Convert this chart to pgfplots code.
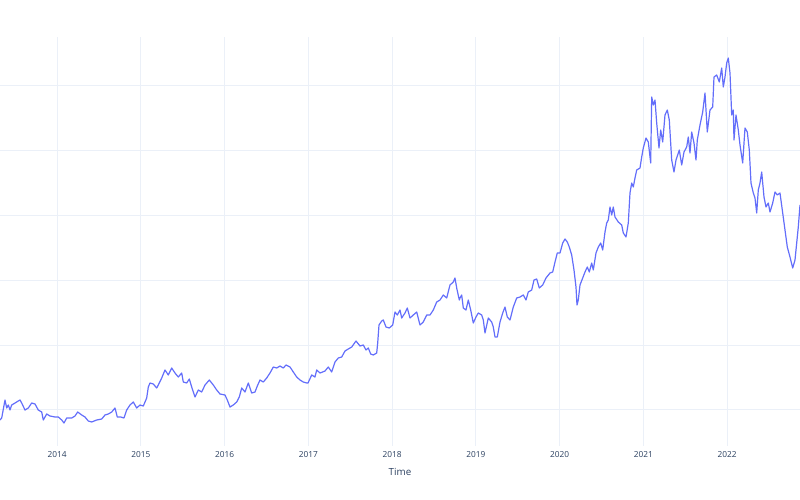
\documentclass[border=0pt]{standalone}
\usepackage{pgfplots}
\pgfplotsset{compat=1.18}
\usepackage{pgfplotstable}
\usepackage{fontspec}
\setmainfont{Open Sans}
\definecolor{plotblue}{HTML}{636EFA}
\definecolor{gridc}{HTML}{EBF0F8}
\definecolor{textc}{HTML}{2A3F5F}
\pgfplotstableread{
px py
0 420
1.7 418
5 400
6.7 408
8.3 405
10 410
11.7 405
15 403
18.3 401
20 400
21.7 403
25 410
28.3 408
31.7 403
35 404
38.3 410
41.7 412
43.3 420
46.7 414
50 416
55 417
58.3 417
61.7 420
64 423
66.7 418
71.7 418
75 416
77.7 412
81.7 415
85 417
88.3 421
91.7 422
96.7 420
101.7 419
105 415
108.3 414
111.7 412
115 408
117.3 417
120.7 417
124 418
126.7 410
130 405
133.3 402
136.7 408
140 405
143.3 406
146.7 398
148.3 387
150 383
153.3 384
156.7 388
158.3 385
161.7 378
165 370
168.3 375
171.7 368
175 373
178.3 377
181.7 373
183.3 382
186.7 383
189.3 379
191.7 387
195 397
198.3 390
201.7 392
205 385
209.3 380
213.3 385
216.7 390
220 394
225 395
227.3 400
230 407
233.3 405
236.7 402
239.3 397
241.7 388
245 392
248.3 383
251.7 393
255 392
257.3 386
260 380
263.3 382
266.7 378
270 373
273.3 367
276.7 368
280 366
283.3 368
286 365
290 367
293.3 372
296.7 377
300 380
303.3 382
306.7 383
308 383
311.7 375
315 377
316.7 370
320 373
325 371
328.3 367
331.7 372
335 362
338.3 358
341.7 357
345 351
348.3 349
351.7 347
356 341
360 346
363.3 345
366 350
368.3 348
370.7 354
373.3 355
376.7 353
377.7 343
379 325
381.7 321
383.3 320
386 327
389.3 328
392.7 325
395 312
397.3 315
400 310
401.7 318
405 313
407.3 308
410 318
413.3 315
416.7 312
420 325
423.3 322
426.7 315
430 315
433.3 310
436.7 302
440 300
443.3 295
446.7 298
450 285
453.3 282
455 278
456.7 288
459.3 300
460 298
461.7 295
463.3 308
466 310
468.3 300
470.7 310
473.3 323
476 317
478.3 313
481.7 315
483.3 320
485 333
488.3 318
491.7 322
493.3 327
495 337
497.3 337
500 322
502.7 313
505 307
507.3 317
510 320
513.3 307
516.7 298
520 297
523.3 295
526 300
528.3 292
531.7 290
534 280
536.7 279
539.3 288
542.7 285
546 278
550 273
552.7 272
555 262
557.3 253
560 253
562.7 243
565 239
567.3 242
569.3 247
571.7 255
574 270
576 287
577 305
578.3 300
580 285
582.7 278
585 272
587.3 267
589.3 272
591.7 263
593.3 270
596 253
598.3 247
600.7 243
602.7 250
605 232
606.7 223
608.3 220
610 207
611.7 215
613.3 207
615 217
618.3 222
621.7 225
623.3 233
626 237
628.3 223
630 193
631.7 183
633.3 187
635 178
636.7 170
640 168
641.7 157
643.3 148
646 138
648.3 142
650.7 163
651.7 97
653.3 105
655 100
656.7 123
659 148
660.7 130
662.7 142
665 115
667.3 110
669.3 120
671.7 160
674 172
676 160
679.3 150
681.7 165
684 152
686.7 147
688.3 137
690 153
691.7 132
694 143
696 160
697.3 140
700 125
702.7 112
705 93
707.3 132
710 110
712.7 107
714 77
716.7 75
719.3 82
721.7 68
723.3 87
725 77
726.7 63
728.3 58
730 73
731.7 115
733.3 110
734 140
736 115
738.3 130
740 145
742.7 163
745 128
747.3 132
749.3 150
751 183
753.3 193
755 198
756.7 213
758.3 190
760 183
761.7 172
764 197
766 207
768.3 203
770 212
772.7 203
775 192
777.3 195
780 193
782.7 213
785 230
787.3 247
790 257
792.7 268
795 260
796.7 243
798.3 227
800 205
}\pricedata
\begin{document}
\begin{tikzpicture}
\useasboundingbox (0,-54bp) rectangle (800bp,446bp);
\begin{axis}[
  at={(0,0)}, anchor=south west,
  scale only axis,
  width=800bp, height=409bp,
  xmin=0, xmax=800,
  ymin=37, ymax=446,
  y dir=reverse,
  axis line style={draw=none},
  major tick length=0pt,
  xtick={57,140.75,224.5,308.25,392,475.75,559.5,643.25,727},
  xticklabels={2014,2015,2016,2017,2018,2019,2020,2021,2022},
  ytick={85,150,215,280,345,409},
  yticklabels={},
  grid=major,
  major grid style={gridc, line width=0.9bp},
  xticklabel style={anchor=center, yshift=-9bp, font=\fontsize{8.3bp}{10bp}\selectfont, text=textc},
  xlabel={Time},
  every axis x label/.style={at={(axis description cs:0.5,0)}, anchor=center, yshift=-26bp, font=\fontsize{9.8bp}{12bp}\selectfont, text=textc},
  clip=true,
]
\addplot[plotblue, line width=1.2bp, line join=round] table[x=px, y=py] {\pricedata};
\end{axis}
\end{tikzpicture}
\end{document}
